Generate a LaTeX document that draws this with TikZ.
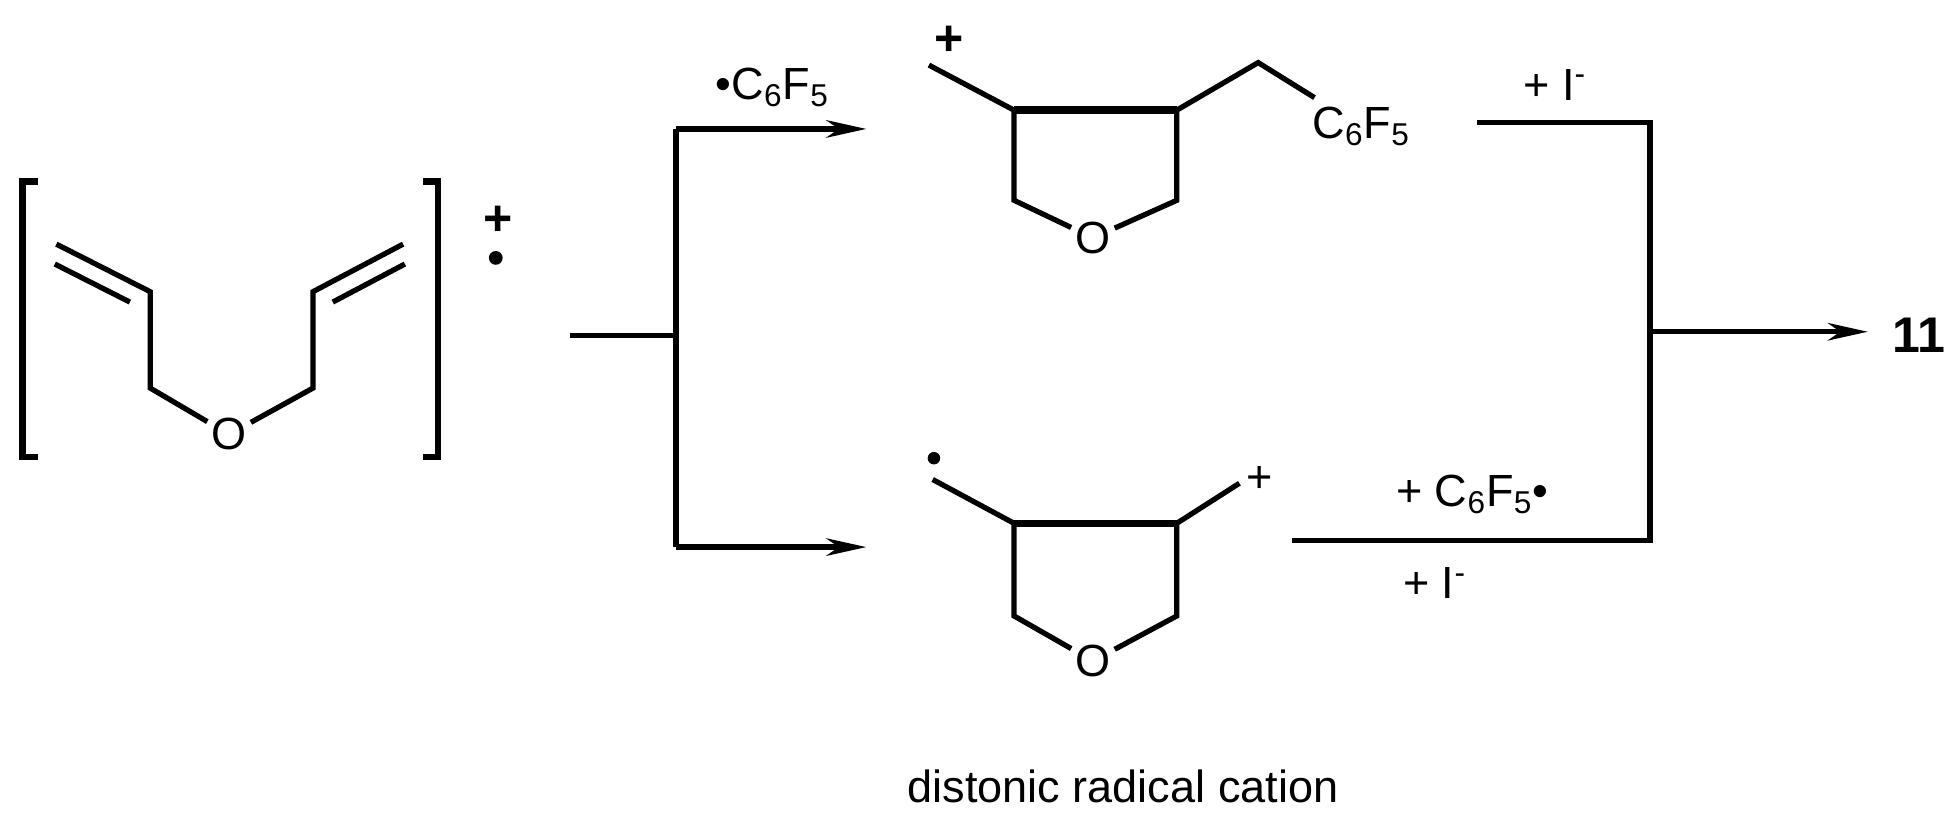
\documentclass[tikz,border=0pt]{standalone}
\usepackage{fontspec}
\setmainfont{Liberation Sans}
\usetikzlibrary{arrows.meta,calc}
\newcommand{\cff}{C\textsubscript{6}F\textsubscript{5}}
\begin{document}
\begin{tikzpicture}[x=0.5pt,y=-0.5pt,
  bond/.style={line width=2.1pt},
  wbond/.style={line width=3pt},
  conn/.style={line width=2.1pt},
  arr/.style={line width=2.1pt,-{Stealth[length=16pt,width=7pt,inset=5pt]}},
  lbl/.style={inner sep=0pt,font=\fontsize{18}{21}\selectfont},
  atom/.style={inner sep=1.5pt,font=\fontsize{18}{21}\selectfont}]
\useasboundingbox (0,0) rectangle (1560,663);
% diallyl ether radical cation
\node[atom] (o1) at (183,347) {O};
\coordinate (l1) at (120,310); \coordinate (l2) at (120,233); \coordinate (l3) at (45,195);
\coordinate (r1) at (250,310); \coordinate (r2) at (250,233); \coordinate (r3) at (322,195);
\draw[bond] (o1) -- (l1) -- (l2) -- (l3);
\draw[bond] (o1) -- (r1) -- (r2) -- (r3);
\draw[bond] ($(l2)!0.15!(l3)+(-5,14)$) -- ($(l2)!0.95!(l3)+(-5,14)$);
\draw[bond] ($(r2)!0.15!(r3)+(5,14)$) -- ($(r2)!0.95!(r3)+(5,14)$);
\draw[line width=2.5pt] (30,145) -- (18,145) -- (18,365) -- (30,365);
\draw[line width=2.5pt] (338,145) -- (350,145) -- (350,365) -- (338,365);
\node[lbl,font=\fontsize{20}{22}\selectfont\bfseries] (pl1) at (398,176) {+};
\fill (396,206) circle (5.5);
% branching
\coordinate (b0) at (455,268); \coordinate (bm) at (540,268);
\coordinate (bt) at (540,103); \coordinate (bb) at (540,437);
\coordinate (at) at (692,103); \coordinate (ab) at (692,437);
\draw[conn] (b0) -- (bm);
\draw[conn] (bt) -- (bb);
\draw[arr] (bt) -- (at);
\draw[arr] (bb) -- (ab);
\node[lbl] (rad) at (617,70) {\textbullet\cff};
% top ring
\node[atom] (o2) at (873,190) {O};
\coordinate (t1) at (810,88); \coordinate (t2) at (940,88);
\coordinate (t3) at (810,160); \coordinate (t4) at (940,160);
\coordinate (t5) at (742,52); \coordinate (t6) at (1005,50); \coordinate (t7) at (1050,78);
\draw[bond] (o2) -- (t3) -- (t1) -- (t5);
\draw[bond] (o2) -- (t4) -- (t2) -- (t6) -- (t7);
\draw[wbond] (t1) -- (t2);
\node[lbl,font=\fontsize{20}{22}\selectfont\bfseries] (pl2) at (758,33) {+};
\node[lbl,anchor=west] (cf) at (1048,101) {\cff};
% bottom ring
\node[atom] (o3) at (873,528) {O};
\coordinate (u1) at (810,418); \coordinate (u2) at (940,418);
\coordinate (u3) at (810,492); \coordinate (u4) at (940,492);
\coordinate (u5) at (745,383); \coordinate (u6) at (990,386);
\draw[bond] (o3) -- (u3) -- (u1) -- (u5);
\draw[bond] (o3) -- (u4) -- (u2) -- (u6);
\draw[wbond] (u1) -- (u2);
\fill (746,366) circle (5);
\node[lbl] (pl3) at (1006,383) {+};
% collector
\coordinate (c1) at (1180,98); \coordinate (c2) at (1318,98);
\coordinate (c3) at (1318,432); \coordinate (c4) at (1032,432);
\coordinate (cm) at (1318,265); \coordinate (ce) at (1492,265);
\draw[conn] (c1) -- (c2) -- (c3) -- (c4);
\draw[arr] (cm) -- (ce);
\node[lbl] (i1) at (1242,68) {+ I\textsuperscript{-}};
\node[lbl] (i2) at (1176,395) {+ \cff\textbullet};
\node[lbl] (i3) at (1146,466) {+ I\textsuperscript{-}};
\node[lbl,font=\fontsize{20}{22}\selectfont\bfseries] (p11) at (1533,268) {11};
\node[lbl] (dist) at (897,628) {distonic radical cation};
\end{tikzpicture}
\end{document}
